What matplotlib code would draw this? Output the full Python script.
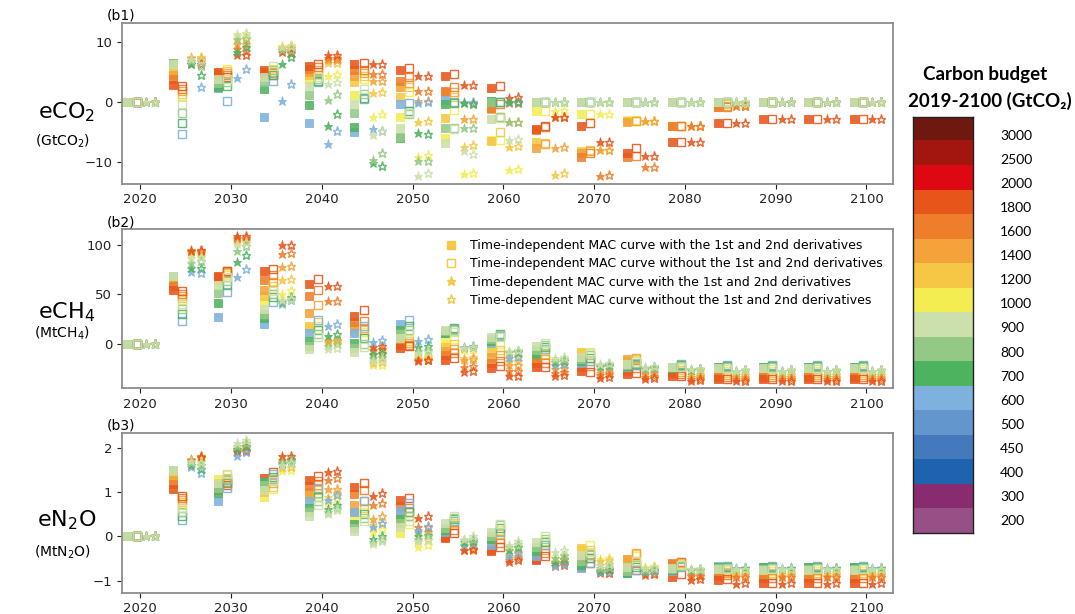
import numpy as np
import matplotlib.pyplot as plt
from matplotlib.lines import Line2D
from matplotlib.colors import ListedColormap

# ---- scenario axes ----
years = [2020, 2025, 2030, 2035, 2040, 2045, 2050, 2055, 2060,
         2065, 2070, 2075, 2080, 2085, 2090, 2095, 2100]
budgets = [600, 700, 800, 900, 1000, 1200, 1400, 1600, 1800]
budget_colors = ['#7fb1de', '#4db35f', '#94c985', '#cbe0aa', '#f4ed52',
                 '#f6c744', '#f3a33a', '#ee7e2c', '#e8551b']
# plotting sequence of the budgets (900 ends up on top)
draw_order = [1000, 1200, 1400, 1600, 1800, 600, 700, 800, 900]

# ---- colour key ----
key_labels = [3000, 2500, 2000, 1800, 1600, 1400, 1200, 1000, 900,
              800, 700, 600, 500, 450, 400, 300, 200]
key_colors = ['#6f1810', '#a3150f', '#de0812', '#e8551b', '#ee7e2c',
              '#f3a33a', '#f6c744', '#f4ed52', '#cbe0aa', '#94c985',
              '#4db35f', '#7fb1de', '#6396cd', '#4479be', '#1e63ad',
              '#882b6f', '#975085']

# ---- eCO2 (GtCO2); rows = years, columns = budgets ----
co2_fs = [
    [0, 0, 0, 0, 0, 0, 0, 0, 0],
    [6.6, 6.5, 6.6, 6.3, 5.8, 5.2, 4.5, 3.8, 2.9],
    [2.4, 2.5, 3.1, 3.8, 4.3, 4.5, 4.6, 4.8, 5.0],
    [-2.5, 2.2, 3.3, 4.2, 4.5, 4.7, 4.9, 5.1, 5.3],
    [-3.6, -0.5, 1.1, 2.6, 3.9, 4.5, 5.0, 5.5, 6.1],
    [-5.0, -4.2, -1.9, -0.3, 1.1, 3.3, 4.4, 5.3, 6.4],
    [-0.3, -6.0, -5.8, -4.4, -2.6, 0.8, 2.5, 3.6, 5.4],
    [0.3, -0.4, -4.3, -6.9, -6.0, -2.7, 1.7, 1.9, 4.3],
    [0.1, 0.1, 0.0, -2.9, -6.4, -6.6, -1.2, -1.0, 2.3],
    [0, 0, 0, 0, -1.5, -6.8, -7.8, -4.7, -4.6],
    [0, 0, 0, 0, -2.1, -8.2, -8.6, -9.2, -4.1],
    [0, 0, 0, 0, -3.1, -3.2, -3.3, -9.2, -8.5],
    [0, 0, 0, 0, 0, -4.0, -4.0, -4.0, -6.8],
    [0, 0, 0, 0, -0.1, -0.5, -0.8, -0.9, -3.6],
    [0, 0, 0, 0, 0, 0, 0, 0, -2.9],
    [0, 0, 0, 0, 0, 0, 0, 0, -2.9],
    [0, 0, 0, 0, 0, 0, 0, 0, -2.9],
]
co2_os = [
    [0, 0, 0, 0, 0, 0, 0, 0, 0],
    [-5.4, -3.6, -1.8, -0.3, 0.9, 1.4, 1.8, 2.2, 2.6],
    [0.2, 2.7, 3.3, 3.9, 5.6, 5.2, 4.8, 4.5, 4.2],
    [3.6, 4.5, 5.3, 6.0, 5.6, 5.3, 5.0, 4.8, 4.5],
    [3.3, 3.5, 3.8, 4.2, 4.5, 5.0, 5.4, 5.9, 6.4],
    [0.5, 0.6, 1.4, 2.2, 3.8, 4.4, 4.9, 5.4, 6.5],
    [-0.2, -1.6, -2.0, -1.8, 1.7, 2.5, 3.1, 4.2, 5.7],
    [0.0, -0.2, -4.3, -4.5, -1.4, 0.8, 1.6, 2.5, 4.7],
    [0, 0, -2.6, -2.7, -6.4, -5.0, -2.5, -0.3, 2.7],
    [0, 0, 0, 0, -1.5, -6.9, -7.0, -4.2, -4.1],
    [0, 0, 0, 0, -2.1, -8.0, -8.3, -8.6, -3.5],
    [0, 0, 0, 0, -3.1, -3.2, -3.2, -9.0, -7.7],
    [0, 0, 0, 0, 0, -4.0, -4.0, -4.0, -6.8],
    [0, 0, 0, 0, -0.1, -0.4, -0.6, -0.8, -3.6],
    [0, 0, 0, 0, 0, 0, 0, 0, -2.9],
    [0, 0, 0, 0, 0, 0, 0, 0, -2.9],
    [0, 0, 0, 0, 0, 0, 0, 0, -2.9],
]
co2_fst = [
    [0, 0, 0, 0, 0, 0, 0, 0, 0],
    [6.6, 6.4, 6.8, 7.2, 7.3, 7.5, 7.3, 6.8, 6.3],
    [4.0, 8.4, 10.5, 11.4, 11.0, 10.6, 9.7, 8.9, 7.9],
    [0.2, 6.4, 8.7, 9.2, 9.4, 9.2, 9.0, 8.7, 8.4],
    [-7.1, -4.1, 0.4, 3.0, 4.4, 6.5, 7.0, 7.3, 7.8],
    [-4.6, -10.2, -9.8, -5.5, -2.5, 1.5, 3.5, 4.7, 6.3],
    [-0.1, -5.2, -9.9, -12.5, -9.2, -3.3, 0.1, 1.9, 4.3],
    [0.0, -0.2, -4.3, -8.2, -12.1, -7.5, -2.9, -0.1, 2.9],
    [0, 0, -3.4, -6.4, -11.4, -7.5, -3.3, -0.2, 0.7],
    [0, 0, 0, 0, -1.5, -12.2, -7.8, -2.6, -2.6],
    [0, 0, 0, 0, -2.1, -8.1, -8.1, -12.5, -6.8],
    [0, 0, 0, 0, -3.2, -3.2, -3.2, -10.9, -9.1],
    [0, 0, 0, 0, 0, -4.0, -4.0, -4.0, -6.8],
    [0, 0, 0, 0, -0.1, -0.4, -0.6, -0.7, -3.6],
    [0, 0, 0, 0, 0, 0, 0, 0, -2.9],
    [0, 0, 0, 0, 0, 0, 0, 0, -2.9],
    [0, 0, 0, 0, 0, 0, 0, 0, -2.9],
]
co2_ost = [
    [0, 0, 0, 0, 0, 0, 0, 0, 0],
    [2.5, 4.6, 6.1, 7.0, 7.4, 7.5, 7.2, 6.8, 6.3],
    [5.6, 9.2, 10.8, 11.5, 11.2, 10.5, 9.8, 8.5, 7.9],
    [3.0, 7.5, 8.7, 9.4, 9.5, 9.3, 9.0, 8.6, 8.3],
    [-4.9, -2.1, 1.3, 3.3, 4.7, 6.6, 7.1, 7.4, 7.8],
    [-4.9, -10.7, -8.6, -4.8, -2.1, 1.7, 3.5, 4.7, 6.3],
    [0.0, -5.3, -9.9, -11.9, -8.9, -3.2, 0.1, 1.9, 4.3],
    [0.0, -0.3, -4.3, -8.7, -12.0, -7.3, -2.8, -0.1, 2.9],
    [0, 0, -3.3, -6.3, -11.2, -7.4, -3.3, -0.2, 0.8],
    [0, 0, 0, 0, -1.4, -11.9, -7.6, -2.6, -2.5],
    [0, 0, 0, 0, -2.0, -8.0, -8.0, -12.3, -6.7],
    [0, 0, 0, 0, -3.2, -3.2, -3.2, -10.9, -9.1],
    [0, 0, 0, 0, 0, -4.0, -4.0, -4.0, -6.8],
    [0, 0, 0, 0, -0.1, -0.4, -0.6, -0.7, -3.6],
    [0, 0, 0, 0, 0, 0, 0, 0, -2.9],
    [0, 0, 0, 0, 0, 0, 0, 0, -2.9],
    [0, 0, 0, 0, 0, 0, 0, 0, -2.9],
]

# ---- eCH4 (MtCH4) ----
ch4_fs = [
    [0, 0, 0, 0, 0, 0, 0, 0, 0],
    [68, 68, 68, 68, 65, 63, 61, 58, 54],
    [27, 41, 51, 59, 62, 64, 66, 67, 68],
    [20, 26, 30, 35, 43, 48, 54, 64, 73],
    [11, 3, -2, -5, 16, 18, 31, 48, 60],
    [11, 1, -4, -9, 13, 15, 18, 22, 28],
    [20, 14, 10, 6, 4, 3, 1, -1, -4],
    [11, 11, 13, 14, 2, -3, -7, -12, -17],
    [1, 3, 5, 7, -3, -8, -14, -20, -25],
    [-8, -11, -6, -2, -9, -14, -17, -20, -24],
    [-20, -18, -16, -14, -10, -9, -20, -24, -28],
    [-24, -23, -22, -21, -20, -18, -16, -28, -31],
    [-25, -25, -24, -24, -25, -26, -28, -30, -33],
    [-24, -24, -25, -25, -28, -30, -32, -34, -36],
    [-24, -24, -25, -25, -28, -30, -32, -34, -36],
    [-24, -24, -25, -25, -28, -30, -32, -34, -36],
    [-24, -24, -25, -25, -28, -30, -32, -34, -36],
]
ch4_os = [
    [0, 0, 0, 0, 0, 0, 0, 0, 0],
    [23, 30, 35, 40, 44, 46, 48, 50, 53],
    [52, 59, 63, 67, 69, 71, 72, 73, 73],
    [42, 47, 50, 53, 55, 58, 62, 69, 76],
    [24, 14, 10, 7, 18, 22, 39, 54, 65],
    [18, 6, 0, -3, 12, 14, 16, 23, 34],
    [24, 18, 14, 11, 5, 3, 1, -1, -2],
    [15, 16, 14, 12, 5, 0, -5, -10, -15],
    [8, 10, 9, 7, 0, -6, -12, -18, -23],
    [-5, -3, -1, 1, -6, -11, -16, -20, -24],
    [-18, -15, -12, -10, -8, -12, -18, -23, -29],
    [-22, -21, -20, -18, -17, -16, -15, -25, -30],
    [-21, -22, -23, -24, -25, -27, -29, -31, -33],
    [-22, -23, -24, -26, -28, -30, -32, -34, -36],
    [-22, -23, -24, -26, -28, -30, -32, -34, -36],
    [-22, -23, -24, -26, -28, -30, -32, -34, -36],
    [-22, -23, -24, -26, -28, -30, -32, -34, -36],
]
ch4_fst = [
    [0, 0, 0, 0, 0, 0, 0, 0, 0],
    [72, 77, 82, 87, 91, 93, 94, 95, 94],
    [67, 83, 94, 101, 103, 104, 106, 107, 109],
    [40, 42, 43, 44, 50, 64, 78, 91, 100],
    [18, 8, -2, -5, 1, 2, 3, 43, 58],
    [2, -11, -15, -18, -22, -20, -12, -6, -3],
    [3, -3, -7, -10, -12, -14, -16, -17, -18],
    [-3, -4, -4, -4, -6, -15, -17, -24, -29],
    [-15, -9, -8, -7, -12, -18, -22, -28, -33],
    [-22, -19, -17, -15, -18, -22, -26, -30, -33],
    [-24, -23, -22, -21, -24, -27, -30, -32, -35],
    [-26, -25, -25, -24, -27, -29, -31, -34, -36],
    [-27, -27, -26, -26, -29, -32, -34, -36, -38],
    [-28, -28, -28, -28, -30, -32, -34, -36, -38],
    [-28, -28, -28, -28, -30, -32, -34, -36, -38],
    [-28, -28, -28, -28, -30, -32, -34, -36, -38],
    [-28, -28, -28, -28, -30, -32, -34, -36, -38],
]
ch4_ost = [
    [0, 0, 0, 0, 0, 0, 0, 0, 0],
    [71, 77, 84, 88, 90, 92, 93, 94, 95],
    [76, 90, 99, 103, 104, 105, 106, 107, 109],
    [44, 47, 46, 45, 54, 65, 79, 92, 100],
    [20, 10, 0, -4, 2, 3, 4, 43, 58],
    [4, -10, -14, -17, -22, -19, -11, -5, -2],
    [5, -2, -6, -9, -12, -14, -16, -17, -17],
    [-2, -3, -3, -3, -5, -14, -16, -23, -28],
    [-14, -8, -7, -6, -12, -18, -22, -28, -33],
    [-21, -18, -16, -14, -17, -21, -25, -29, -32],
    [-23, -22, -21, -20, -23, -26, -29, -31, -34],
    [-25, -24, -24, -23, -26, -28, -30, -33, -35],
    [-26, -26, -26, -26, -28, -31, -33, -35, -37],
    [-27, -27, -27, -27, -30, -32, -34, -36, -38],
    [-27, -27, -27, -27, -30, -32, -34, -36, -38],
    [-27, -27, -27, -27, -30, -32, -34, -36, -38],
    [-27, -27, -27, -27, -30, -32, -34, -36, -38],
]

# ---- eN2O (MtN2O) ----
n2o_fs = [
    [0, 0, 0, 0, 0, 0, 0, 0, 0],
    [1.5, 1.5, 1.5, 1.5, 1.4, 1.35, 1.27, 1.18, 1.07],
    [0.79, 0.98, 1.1, 1.2, 1.3, 1.2, 1.15, 1.1, 1.05],
    [1.24, 1.24, 1.15, 1.05, 0.88, 1.0, 1.1, 1.2, 1.32],
    [0.8, 0.63, 0.55, 0.47, 0.9, 0.95, 1.0, 1.13, 1.28],
    [0.55, 0.28, 0.2, 0.12, 0.35, 0.55, 0.7, 0.95, 1.12],
    [0.57, 0.4, 0.3, 0.22, 0.08, 0.3, 0.5, 0.68, 0.83],
    [0.1, 0.15, 0.2, 0.3, 0.05, 0.02, 0.0, -0.02, -0.03],
    [-0.19, -0.06, 0.0, 0.1, -0.2, -0.25, -0.3, -0.32, -0.34],
    [-0.45, -0.34, -0.25, -0.12, -0.4, -0.45, -0.5, -0.52, -0.54],
    [-0.72, -0.64, -0.55, -0.42, -0.3, -0.27, -0.5, -0.6, -0.7],
    [-0.84, -0.83, -0.78, -0.7, -0.55, -0.52, -0.52, -0.7, -0.8],
    [-0.78, -0.76, -0.74, -0.72, -0.68, -0.64, -0.62, -0.6, -0.91],
    [-0.68, -0.69, -0.72, -0.74, -0.78, -0.82, -0.86, -0.9, -0.98],
    [-0.69, -0.7, -0.73, -0.75, -0.8, -0.85, -0.9, -0.95, -1.05],
    [-0.69, -0.7, -0.73, -0.75, -0.8, -0.85, -0.9, -0.95, -1.05],
    [-0.69, -0.7, -0.73, -0.75, -0.8, -0.85, -0.9, -0.95, -1.05],
]
n2o_os = [
    [0, 0, 0, 0, 0, 0, 0, 0, 0],
    [0.37, 0.47, 0.55, 0.63, 0.7, 0.77, 0.82, 0.87, 0.92],
    [1.1, 1.2, 1.3, 1.4, 1.38, 1.32, 1.28, 1.22, 1.17],
    [1.4, 1.35, 1.3, 1.25, 1.06, 1.12, 1.2, 1.3, 1.46],
    [1.1, 0.9, 0.8, 0.72, 0.95, 1.05, 1.15, 1.25, 1.36],
    [0.8, 0.5, 0.42, 0.34, 0.55, 0.65, 0.8, 1.05, 1.2],
    [0.75, 0.55, 0.45, 0.35, 0.28, 0.45, 0.55, 0.65, 0.87],
    [0.35, 0.4, 0.42, 0.45, 0.35, 0.3, 0.25, 0.15, 0.08],
    [0.1, 0.2, 0.25, 0.28, 0.15, 0.05, -0.05, -0.15, -0.23],
    [-0.2, -0.12, -0.05, 0.0, -0.1, -0.2, -0.3, -0.38, -0.45],
    [-0.6, -0.5, -0.42, -0.35, -0.2, -0.3, -0.4, -0.5, -0.6],
    [-0.75, -0.7, -0.65, -0.55, -0.45, -0.4, -0.38, -0.6, -0.75],
    [-0.7, -0.68, -0.66, -0.64, -0.62, -0.6, -0.58, -0.57, -0.85],
    [-0.67, -0.69, -0.71, -0.73, -0.76, -0.8, -0.84, -0.88, -0.97],
    [-0.68, -0.7, -0.72, -0.74, -0.78, -0.83, -0.88, -0.94, -1.05],
    [-0.68, -0.7, -0.72, -0.74, -0.78, -0.83, -0.88, -0.94, -1.05],
    [-0.68, -0.7, -0.72, -0.74, -0.78, -0.83, -0.88, -0.94, -1.05],
]
n2o_fst = [
    [0, 0, 0, 0, 0, 0, 0, 0, 0],
    [1.57, 1.62, 1.66, 1.7, 1.72, 1.73, 1.74, 1.73, 1.7],
    [1.81, 1.98, 2.05, 2.1, 2.0, 1.97, 1.95, 1.93, 1.91],
    [1.62, 1.66, 1.68, 1.62, 1.47, 1.55, 1.63, 1.72, 1.81],
    [0.83, 0.62, 0.55, 0.5, 0.75, 0.9, 1.06, 1.28, 1.46],
    [0.22, -0.06, -0.12, -0.17, 0.1, 0.25, 0.4, 0.72, 0.92],
    [0.15, 0.0, -0.05, -0.11, -0.24, -0.1, 0.1, 0.22, 0.41],
    [-0.2, -0.13, -0.08, -0.05, -0.15, -0.22, -0.3, -0.32, -0.3],
    [-0.45, -0.3, -0.25, -0.19, -0.3, -0.4, -0.48, -0.53, -0.57],
    [-0.68, -0.58, -0.48, -0.35, -0.5, -0.55, -0.6, -0.63, -0.66],
    [-0.8, -0.78, -0.72, -0.65, -0.52, -0.55, -0.65, -0.75, -0.83],
    [-0.8, -0.78, -0.75, -0.72, -0.7, -0.72, -0.78, -0.82, -0.87],
    [-0.76, -0.75, -0.74, -0.74, -0.8, -0.85, -0.88, -0.9, -0.98],
    [-0.72, -0.73, -0.74, -0.74, -0.8, -0.85, -0.89, -0.93, -1.07],
    [-0.72, -0.73, -0.74, -0.74, -0.8, -0.85, -0.89, -0.93, -1.07],
    [-0.72, -0.73, -0.74, -0.74, -0.8, -0.85, -0.89, -0.93, -1.07],
    [-0.72, -0.73, -0.74, -0.74, -0.8, -0.85, -0.89, -0.93, -1.07],
]
n2o_ost = [
    [0, 0, 0, 0, 0, 0, 0, 0, 0],
    [1.43, 1.53, 1.62, 1.68, 1.73, 1.77, 1.8, 1.81, 1.79],
    [1.9, 2.04, 2.1, 2.17, 2.1, 2.05, 2.0, 1.96, 1.92],
    [1.65, 1.72, 1.7, 1.65, 1.5, 1.57, 1.65, 1.74, 1.81],
    [0.94, 0.72, 0.65, 0.6, 0.85, 0.97, 1.07, 1.32, 1.47],
    [0.3, 0.0, -0.05, -0.11, 0.17, 0.3, 0.45, 0.75, 0.97],
    [0.23, 0.04, 0.0, -0.08, -0.19, -0.05, 0.1, 0.22, 0.45],
    [-0.15, -0.1, -0.05, 0.0, -0.12, -0.2, -0.27, -0.3, -0.29],
    [-0.38, -0.25, -0.18, -0.11, -0.25, -0.35, -0.45, -0.5, -0.53],
    [-0.62, -0.52, -0.42, -0.3, -0.45, -0.52, -0.57, -0.6, -0.64],
    [-0.78, -0.75, -0.7, -0.63, -0.5, -0.54, -0.63, -0.73, -0.82],
    [-0.78, -0.76, -0.73, -0.7, -0.68, -0.7, -0.76, -0.8, -0.86],
    [-0.75, -0.74, -0.73, -0.73, -0.78, -0.83, -0.87, -0.9, -0.97],
    [-0.71, -0.72, -0.73, -0.73, -0.79, -0.84, -0.88, -0.92, -1.06],
    [-0.71, -0.72, -0.73, -0.73, -0.79, -0.84, -0.88, -0.92, -1.06],
    [-0.71, -0.72, -0.73, -0.73, -0.79, -0.84, -0.88, -0.92, -1.06],
    [-0.71, -0.72, -0.73, -0.73, -0.79, -0.84, -0.88, -0.92, -1.06],
]

legend_labels = [
    "Time-independent MAC curve with the 1st and 2nd derivatives",
    "Time-independent MAC curve without the 1st and 2nd derivatives",
    "Time-dependent MAC curve with the 1st and 2nd derivatives",
    "Time-dependent MAC curve without the 1st and 2nd derivatives",
]

# (x offset, marker, filled, size) for each MAC variant
styles = [(-1.4, 's', True, 5.8), (-0.4, 's', False, 5.8),
          (0.65, '*', True, 6.6), (1.65, '*', False, 6.6)]

panels = [
    ("(b1)", "eCO$_2$", "(GtCO$_2$)", [co2_fs, co2_os, co2_fst, co2_ost],
     (-13.7, 13.3), [-10, 0, 10]),
    ("(b2)", "eCH$_4$", "(MtCH$_4$)", [ch4_fs, ch4_os, ch4_fst, ch4_ost],
     (-45, 116), [0, 50, 100]),
    ("(b3)", "eN$_2$O", "(MtN$_2$O)", [n2o_fs, n2o_os, n2o_fst, n2o_ost],
     (-1.27, 2.34), [-1, 0, 1, 2]),
]
ax_boxes = [[0.1135, 0.701, 0.717, 0.262],
            [0.1135, 0.368, 0.717, 0.259],
            [0.1135, 0.035, 0.717, 0.260]]
name_y = [(0.818, 0.770), (0.492, 0.457), (0.153, 0.101)]

fig = plt.figure(figsize=(10.75, 6.14), dpi=100)
yr = np.array(years, dtype=float)

for p, (tag, name, unit, series, ylim, yticks) in enumerate(panels):
    ax = fig.add_axes(ax_boxes[p])
    for (dx, mk, filled, ms), table in zip(styles, series):
        vals = np.array(table, dtype=float)
        for b in draw_order:
            j = budgets.index(b)
            c = budget_colors[j]
            if filled:
                ax.plot(yr + dx, vals[:, j], ls='none', marker=mk, ms=ms,
                        mfc=c, mec=c, mew=0.6, alpha=0.88)
            else:
                ax.plot(yr + dx, vals[:, j], ls='none', marker=mk, ms=ms,
                        mfc='none', mec=c, mew=1.0, alpha=0.9)
    ax.set_xlim(2018, 2102.9)
    ax.set_ylim(*ylim)
    ax.set_xticks(range(2020, 2101, 10))
    ax.set_yticks(yticks)
    ax.tick_params(labelsize=9.5, length=3.5, width=0.8, colors='#222222')
    for s in ax.spines.values():
        s.set_color('#8c8c8c')
        s.set_linewidth(1.3)
    ax.text(-0.02, 1.0, tag, transform=ax.transAxes, ha='left', va='bottom',
            fontsize=10)
    fig.text(0.062, name_y[p][0], name, ha='center', va='center', fontsize=16)
    fig.text(0.058, name_y[p][1], unit, ha='center', va='center', fontsize=10)

    if p == 1:
        leg_c = '#f6c744'
        handles = [
            Line2D([], [], ls='none', marker='s', ms=5.5, mfc=leg_c, mec=leg_c),
            Line2D([], [], ls='none', marker='s', ms=5.5, mfc='none', mec=leg_c, mew=1.0),
            Line2D([], [], ls='none', marker='*', ms=6.5, mfc=leg_c, mec=leg_c),
            Line2D([], [], ls='none', marker='*', ms=6.5, mfc='none', mec=leg_c, mew=1.0),
        ]
        ax.legend(handles, legend_labels, loc='upper right', frameon=False,
                  fontsize=9, handlelength=1.2, handletextpad=0.9,
                  labelspacing=0.42, borderaxespad=0.4)

# ---- budget colour key ----
cax = fig.add_axes([0.849, 0.132, 0.056, 0.678])
cmap = ListedColormap(key_colors)
cax.imshow(np.arange(len(key_colors)).reshape(-1, 1), cmap=cmap,
           aspect='auto', interpolation='nearest')
cax.set_xticks([])
cax.set_yticks([])
for s in cax.spines.values():
    s.set_color('#222222')
    s.set_linewidth(1.0)
for i, lab in enumerate(key_labels):
    cax.text(1.45, i + 0.3 - 0.3 * i / (len(key_labels) - 1), str(lab),
             transform=cax.get_yaxis_transform(), ha='left', va='center',
             fontsize=10, family=['Lato', 'DejaVu Sans'])
fig.text(0.916, 0.879, "Carbon budget", ha='center', va='center',
         fontsize=13.5, fontweight='bold', family=['Lato', 'DejaVu Sans'])
fig.text(0.921, 0.836, "2019-2100 (GtCO\u2082)", ha='center', va='center',
         fontsize=13.5, fontweight='bold', family=['Lato', 'DejaVu Sans'])

fig.savefig('out.png', dpi=100)
